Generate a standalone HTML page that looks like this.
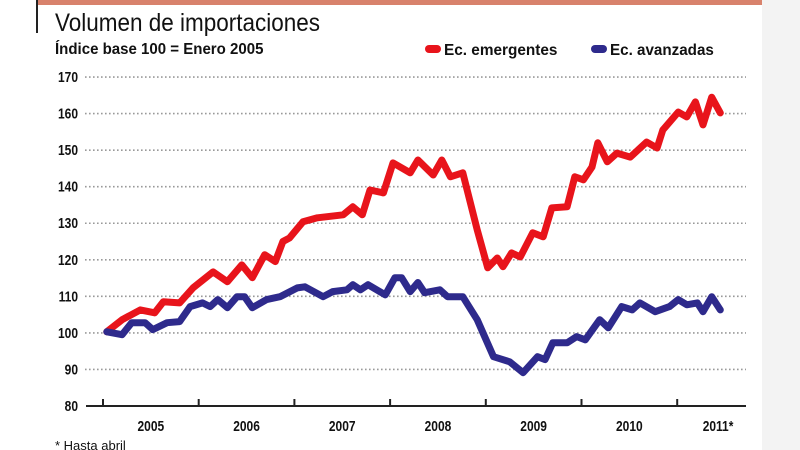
<!DOCTYPE html>
<html><head><meta charset="utf-8"><style>
body{margin:0;width:800px;height:450px;overflow:hidden;background:#fff;font-family:"Liberation Sans",sans-serif}
svg{display:block}
</style></head><body>
<svg id="chart" width="800" height="450">
<rect x="762" y="0" width="38" height="450" fill="#f3f3f3"/>
<rect x="38" y="0" width="724" height="5" fill="#d8826c"/>
<rect x="36" y="0" width="2" height="33" fill="#222"/>
<text x="55" y="31" font-size="25" fill="#111" transform="translate(55 0) scale(0.9 1) translate(-55 0)">Volumen de importaciones</text>
<text x="55" y="54" font-size="16" font-weight="bold" fill="#111" transform="translate(55 0) scale(0.94 1) translate(-55 0)">Índice base 100 = Enero 2005</text>
<g>
<rect x="425" y="45" width="16" height="8" rx="4" fill="#e8141b"/>
<text x="444" y="55" font-size="16" font-weight="bold" fill="#111" transform="translate(444 0) scale(0.96 1) translate(-444 0)">Ec. emergentes</text>
<rect x="591" y="45" width="16" height="8" rx="4" fill="#2e2a8c"/>
<text x="610" y="55" font-size="16" font-weight="bold" fill="#111" transform="translate(610 0) scale(0.95 1) translate(-610 0)">Ec. avanzadas</text>
</g>
<g id="grid"></g>
<g id="axis"></g>
<g id="series"></g>
<text x="55" y="450" font-size="13" fill="#111">* Hasta abril</text>
</svg>
<script>
const yTicks=[80,90,100,110,120,130,140,150,160,170];
const years=["2005","2006","2007","2008","2009","2010","2011*"];
const emT=[2005.04,2005.2,2005.39,2005.54,2005.63,2005.8,2005.94,2006.15,2006.3,2006.45,2006.56,2006.69,2006.8,2006.88,2006.95,2007.09,2007.24,2007.51,2007.61,2007.71,2007.79,2007.93,2008.03,2008.21,2008.29,2008.45,2008.54,2008.63,2008.76,2008.91,2009.02,2009.12,2009.18,2009.27,2009.36,2009.49,2009.6,2009.69,2009.85,2009.93,2010.02,2010.11,2010.17,2010.27,2010.37,2010.51,2010.68,2010.79,2010.85,2011.01,2011.1,2011.19,2011.27,2011.36,2011.45];
const emV=[100.3,103.6,106.3,105.5,108.5,108.2,112.3,116.7,114,118.6,115.1,121.4,119.5,125,126,130.4,131.5,132.3,134.5,132.3,139.1,138.3,146.5,143.8,147.3,143.2,147.3,142.7,143.8,128.2,117.8,120.5,118.1,121.9,120.8,127.4,126.3,134.2,134.5,142.7,141.9,145.4,152,146.8,149.2,148.1,152.2,150.6,155.5,160.4,159.1,163.2,156.9,164.5,160.2];
const avT=[2005.04,2005.2,2005.3,2005.44,2005.52,2005.67,2005.8,2005.91,2006.04,2006.12,2006.2,2006.3,2006.4,2006.48,2006.56,2006.71,2006.85,2007.03,2007.11,2007.3,2007.4,2007.55,2007.61,2007.69,2007.77,2007.95,2008.05,2008.12,2008.21,2008.29,2008.36,2008.52,2008.6,2008.76,2008.91,2009.08,2009.25,2009.39,2009.54,2009.62,2009.7,2009.85,2009.95,2010.04,2010.19,2010.28,2010.42,2010.53,2010.61,2010.77,2010.92,2011.01,2011.1,2011.21,2011.27,2011.36,2011.45];
const avV=[100.3,99.5,102.8,102.8,100.9,102.8,103.1,107.2,108.2,107.2,109.1,106.9,109.9,109.9,106.9,109.1,109.9,112.3,112.6,109.9,111.3,111.8,113.2,111.8,113.2,110.4,115.1,115.1,111.3,113.8,111,111.8,109.9,109.9,103.6,93.5,92.1,89.1,93.5,92.7,97.3,97.3,99,98.1,103.6,101.4,107.2,106.3,108.2,105.8,107.2,109.1,107.7,108.2,105.8,109.9,106.3];
const NS="http://www.w3.org/2000/svg";
const x=t=>103+(t-2005)*95.7;
const y=v=>406-(v-80)*3.655;
function mk(tag,attrs,parent){const e=document.createElementNS(NS,tag);for(const k in attrs)e.setAttribute(k,attrs[k]);parent.appendChild(e);return e;}
const grid=document.getElementById('grid'),axis=document.getElementById('axis'),series=document.getElementById('series');
yTicks.forEach(v=>{
  if(v>80){const l=mk('line',{x1:85,x2:746,y1:y(v),y2:y(v),stroke:'#999','stroke-width':1.6,'stroke-dasharray':'1.6 2.4'},grid);
  
  }
  const t=mk('text',{x:78,y:y(v)+5,'font-size':15,'font-weight':'bold','text-anchor':'end',fill:'#111',transform:`translate(78 0) scale(0.8 1) translate(-78 0)`},axis);
  t.textContent=v;
  
  
});
const base=mk('line',{x1:86,x2:746,y1:406,y2:406,stroke:'#222','stroke-width':2},axis);


years.forEach((lab,i)=>{
  const tk=mk('line',{x1:x(2005+i),x2:x(2005+i),y1:399,y2:406,stroke:'#222','stroke-width':2},axis);
  
  
  const cx=x(2005+i+0.5)-(i==6?7:0);
  const t=mk('text',{x:cx,y:431,'font-size':15,'font-weight':'bold','text-anchor':'middle',fill:'#111',transform:`translate(${cx} 0) scale(0.8 1) translate(${-cx} 0)`},axis);
  t.textContent=lab;
  
  
});
function line(T,V,color,name){
  const d=T.map((t,i)=>(i?'L':'M')+x(t).toFixed(1)+' '+y(V[i]).toFixed(1)).join(' ');
  const p=mk('path',{d:d,fill:'none',stroke:color,'stroke-width':7,'stroke-linejoin':'round','stroke-linecap':'round'},series);
  
  
}
line(emT,emV,'#e8141b','series-emergentes');
line(avT,avV,'#2e2a8c','series-avanzadas');
</script>
</body></html>
